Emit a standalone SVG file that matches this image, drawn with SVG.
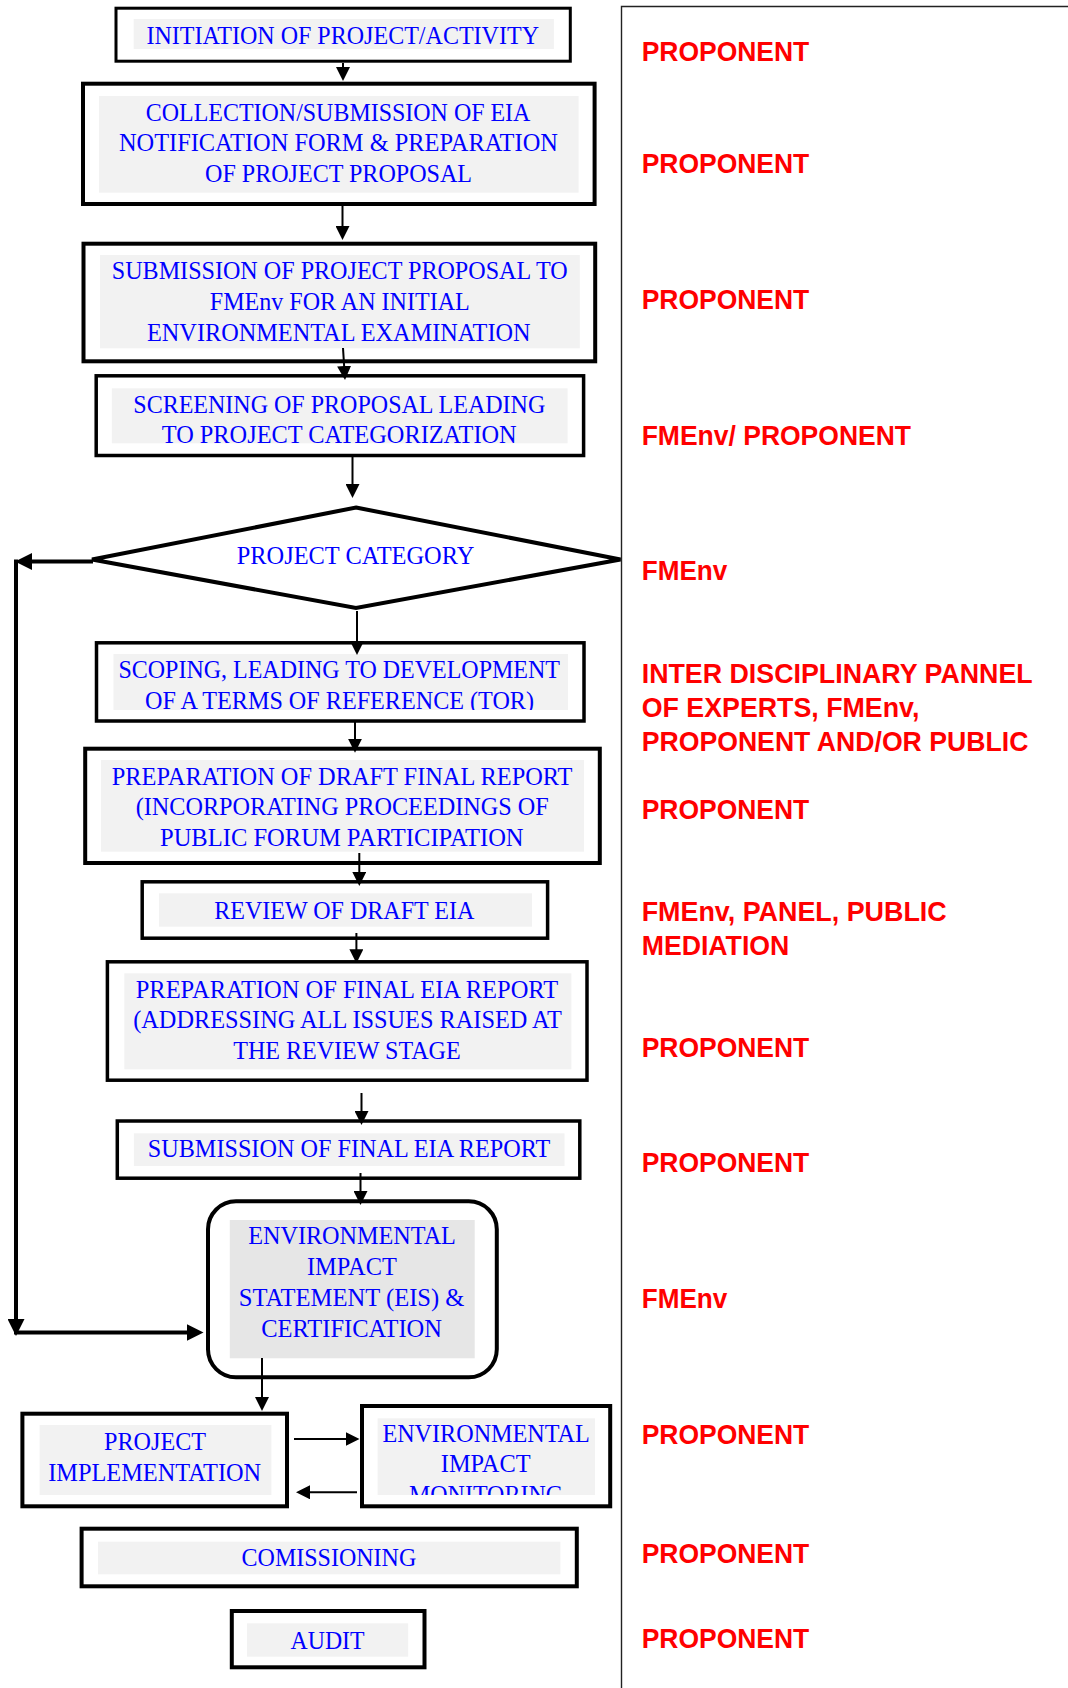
<svg xmlns="http://www.w3.org/2000/svg" width="1068" height="1688" viewBox="0 0 1068 1688">
<style>
.box{fill:#ffffff;stroke:#000000;stroke-width:4}
.bg{fill:#f2f2f2;stroke:none}
.bg2{fill:#e6e6e6;stroke:none}
.t{font-family:"Liberation Serif","Times New Roman",serif;font-size:26px;fill:#0000ff}
.r{font-family:"Liberation Sans",Arial,sans-serif;font-weight:bold;font-size:28px;fill:#ff0000}
.c{fill:none;stroke:#000000;stroke-width:2;marker-end:url(#ah)}
.cb{fill:none;stroke:#000000;stroke-width:4;marker-end:url(#ahb)}
.frame{fill:none;stroke:#222222;stroke-width:1.4}
</style>
<defs>
<marker id="ah" markerUnits="userSpaceOnUse" markerWidth="14" markerHeight="14" refX="10" refY="7" orient="auto">
<path d="M0,0 L14,7 L0,14 z" fill="#000000"/>
</marker>
<marker id="ahb" markerUnits="userSpaceOnUse" markerWidth="17" markerHeight="17" refX="9" refY="8.5" orient="auto">
<path d="M0,0 L17,8.5 L0,17 z" fill="#000000"/>
</marker>
<clipPath id="clip5"><rect x="113.5" y="654" width="454.5" height="56"/></clipPath>
<clipPath id="clip12"><rect x="377.6" y="1418.3" width="217.4" height="76.7"/></clipPath>
</defs>
<rect x="0" y="0" width="1068" height="1688" fill="#ffffff"/>

<g id="frame">
<path class="frame" d="M621.5,1688 L621.5,6.5 L1068,6.5"/>
</g>

<g id="n1">
<rect class="box" style="stroke-width:3" x="116" y="8.2" width="454.3" height="53"/>
<rect class="bg" x="133.7" y="19" width="420.2" height="30"/>
<text class="t" x="146.5" y="43.5" textLength="392.5" lengthAdjust="spacingAndGlyphs">INITIATION OF PROJECT/ACTIVITY</text>
</g>

<g id="n2">
<rect class="box" x="83" y="83.7" width="511.6" height="120.3"/>
<rect class="bg" x="99" y="96" width="479.6" height="96.7"/>
<text class="t" x="145.8" y="120.5" textLength="384.6" lengthAdjust="spacingAndGlyphs">COLLECTION/SUBMISSION OF EIA</text>
<text class="t" x="118.9" y="150.5" textLength="439" lengthAdjust="spacingAndGlyphs">NOTIFICATION FORM &amp; PREPARATION</text>
<text class="t" x="205" y="181.8" textLength="267" lengthAdjust="spacingAndGlyphs">OF PROJECT PROPOSAL</text>
</g>

<g id="n3">
<rect class="box" x="83.5" y="243.7" width="511.7" height="117.6"/>
<rect class="bg" x="100" y="255" width="479.8" height="93.3"/>
<text class="t" x="111.8" y="279.3" textLength="455.8" lengthAdjust="spacingAndGlyphs">SUBMISSION OF PROJECT PROPOSAL TO</text>
<text class="t" x="209.8" y="310.2" textLength="260" lengthAdjust="spacingAndGlyphs">FMEnv FOR AN INITIAL</text>
<text class="t" x="147" y="341" textLength="383.6" lengthAdjust="spacingAndGlyphs">ENVIRONMENTAL EXAMINATION</text>
</g>

<g id="n4">
<rect class="box" style="stroke-width:3.5" x="96.2" y="375.8" width="487.4" height="79.7"/>
<rect class="bg" x="111.8" y="388.3" width="455.8" height="55"/>
<text class="t" x="133.3" y="412.7" textLength="412" lengthAdjust="spacingAndGlyphs">SCREENING OF PROPOSAL LEADING</text>
<text class="t" x="161.7" y="442.5" textLength="355" lengthAdjust="spacingAndGlyphs">TO PROJECT CATEGORIZATION</text>
</g>

<g id="n5">
<polygon class="box" points="356,507.5 620.5,559.5 356,608 92,559.5"/>
<text class="t" x="236.7" y="564" textLength="237.6" lengthAdjust="spacingAndGlyphs">PROJECT CATEGORY</text>
</g>

<g id="n6">
<rect class="box" style="stroke-width:3.5" x="96.5" y="642.8" width="487.5" height="78.2"/>
<rect class="bg" x="113.5" y="654" width="454.5" height="56"/>
<text class="t" x="118.4" y="678" textLength="441.6" lengthAdjust="spacingAndGlyphs">SCOPING, LEADING TO DEVELOPMENT</text>
<text class="t" clip-path="url(#clip5)" x="145" y="709" textLength="389" lengthAdjust="spacingAndGlyphs">OF A TERMS OF REFERENCE (TOR)</text>
</g>

<g id="n7">
<rect class="box" x="85.2" y="748.7" width="514.6" height="114.3"/>
<rect class="bg" x="101" y="760" width="483" height="91.7"/>
<text class="t" x="111.8" y="785" textLength="460.7" lengthAdjust="spacingAndGlyphs">PREPARATION OF DRAFT FINAL REPORT</text>
<text class="t" x="135.7" y="815.2" textLength="413" lengthAdjust="spacingAndGlyphs">(INCORPORATING PROCEEDINGS OF</text>
<text class="t" x="160" y="845.8" textLength="363.6" lengthAdjust="spacingAndGlyphs">PUBLIC FORUM PARTICIPATION</text>
</g>

<g id="n8">
<rect class="box" style="stroke-width:3.5" x="142.2" y="881.8" width="405.4" height="56.4"/>
<rect class="bg" x="159" y="893.3" width="373" height="33.4"/>
<text class="t" x="214.3" y="918.5" textLength="260" lengthAdjust="spacingAndGlyphs">REVIEW OF DRAFT EIA</text>
</g>

<g id="n9">
<rect class="box" style="stroke-width:3.5" x="107.4" y="961.8" width="479.6" height="118.4"/>
<rect class="bg" x="124.3" y="973.3" width="447.1" height="96"/>
<text class="t" x="135.7" y="997.5" textLength="422.5" lengthAdjust="spacingAndGlyphs">PREPARATION OF FINAL EIA REPORT</text>
<text class="t" x="133.2" y="1027.5" textLength="428.6" lengthAdjust="spacingAndGlyphs">(ADDRESSING ALL ISSUES RAISED AT</text>
<text class="t" x="233.2" y="1059.3" textLength="227.5" lengthAdjust="spacingAndGlyphs">THE REVIEW STAGE</text>
</g>

<g id="n10">
<rect class="box" style="stroke-width:3.5" x="117.3" y="1121" width="462.5" height="57.2"/>
<rect class="bg" x="133.9" y="1133.3" width="430.6" height="32.7"/>
<text class="t" x="147.8" y="1157.2" textLength="402.4" lengthAdjust="spacingAndGlyphs">SUBMISSION OF FINAL EIA REPORT</text>
</g>

<g id="n11">
<rect class="box" x="208" y="1201.3" width="288.8" height="176" rx="28" ry="28"/>
<rect class="bg2" x="229.8" y="1220" width="244.9" height="138.3"/>
<text class="t" x="248.2" y="1243.7" textLength="207.7" lengthAdjust="spacingAndGlyphs">ENVIRONMENTAL</text>
<text class="t" x="307" y="1274.8" textLength="89.8" lengthAdjust="spacingAndGlyphs">IMPACT</text>
<text class="t" x="238.8" y="1305.7" textLength="225.7" lengthAdjust="spacingAndGlyphs">STATEMENT (EIS) &amp;</text>
<text class="t" x="261.2" y="1337" textLength="180.8" lengthAdjust="spacingAndGlyphs">CERTIFICATION</text>
</g>

<g id="n12">
<rect class="box" x="22.4" y="1413.7" width="264.6" height="92.6"/>
<rect class="bg" x="39.6" y="1425" width="231.8" height="70"/>
<text class="t" x="104" y="1450.3" textLength="102" lengthAdjust="spacingAndGlyphs">PROJECT</text>
<text class="t" x="48.2" y="1481" textLength="213" lengthAdjust="spacingAndGlyphs">IMPLEMENTATION</text>
</g>

<g id="n13">
<rect class="box" x="362" y="1406" width="248.2" height="100.3"/>
<rect class="bg" x="377.6" y="1418.3" width="217.4" height="76.7"/>
<text class="t" x="382.4" y="1442" textLength="207.4" lengthAdjust="spacingAndGlyphs">ENVIRONMENTAL</text>
<text class="t" x="440.8" y="1472" textLength="89.8" lengthAdjust="spacingAndGlyphs">IMPACT</text>
<text class="t" clip-path="url(#clip12)" x="409" y="1502.5" textLength="154" lengthAdjust="spacingAndGlyphs">MONITORING</text>
</g>

<g id="n14">
<rect class="box" x="81.6" y="1528.7" width="495.2" height="57.6"/>
<rect class="bg" x="98" y="1541.7" width="462.4" height="32.6"/>
<text class="t" x="241.6" y="1566.2" textLength="174.7" lengthAdjust="spacingAndGlyphs">COMISSIONING</text>
</g>

<g id="n15">
<rect class="box" x="231.8" y="1611" width="192.7" height="56.3"/>
<rect class="bg" x="247" y="1623.3" width="161.2" height="33.4"/>
<text class="t" x="290.6" y="1648.5" textLength="73.9" lengthAdjust="spacingAndGlyphs">AUDIT</text>
</g>

<g id="connectors">
<path class="c" d="M343,63 L343,77"/>
<path class="c" d="M342.5,206 L342.5,236"/>
<path class="c" d="M343,348 L344.75,376"/>
<path class="c" d="M352.5,457 L352.5,494"/>
<path class="c" d="M357,611 L357,651"/>
<path class="c" d="M355,722 L355,748.7"/>
<path class="c" d="M359.3,853 L359.3,882"/>
<path class="c" d="M356.4,933 L356.4,959.3"/>
<path class="c" d="M361.5,1093 L361.5,1121"/>
<path class="c" d="M360.5,1173 L360.5,1201"/>
<path class="c" d="M262,1358 L262,1407"/>
<path class="c" d="M294,1439 L355.5,1439"/>
<path class="c" d="M357,1492.3 L300,1492.3"/>
<path class="cb" d="M93,561.5 L23,561.5"/>
<path class="cb" d="M16,559.5 L16,1328"/>
<path class="cb" d="M14,1332.5 L195.5,1332.5"/>
</g>

<g id="roles">
<text class="r" x="641.7" y="61" textLength="167.6" lengthAdjust="spacingAndGlyphs">PROPONENT</text>
<text class="r" x="641.7" y="173" textLength="167.6" lengthAdjust="spacingAndGlyphs">PROPONENT</text>
<text class="r" x="641.7" y="309" textLength="167.6" lengthAdjust="spacingAndGlyphs">PROPONENT</text>
<text class="r" x="641.7" y="445" textLength="269.3" lengthAdjust="spacingAndGlyphs">FMEnv/ PROPONENT</text>
<text class="r" x="641.7" y="580.3" textLength="85.6" lengthAdjust="spacingAndGlyphs">FMEnv</text>
<text class="r" x="641.7" y="682.7" textLength="391" lengthAdjust="spacingAndGlyphs">INTER DISCIPLINARY PANNEL</text>
<text class="r" x="641.7" y="716.5" textLength="277.7" lengthAdjust="spacingAndGlyphs">OF EXPERTS, FMEnv,</text>
<text class="r" x="641.7" y="750.5" textLength="386.7" lengthAdjust="spacingAndGlyphs">PROPONENT AND/OR PUBLIC</text>
<text class="r" x="641.7" y="818.7" textLength="167.6" lengthAdjust="spacingAndGlyphs">PROPONENT</text>
<text class="r" x="641.7" y="920.7" textLength="305" lengthAdjust="spacingAndGlyphs">FMEnv, PANEL, PUBLIC</text>
<text class="r" x="641.7" y="954.7" textLength="147.6" lengthAdjust="spacingAndGlyphs">MEDIATION</text>
<text class="r" x="641.7" y="1057" textLength="167.6" lengthAdjust="spacingAndGlyphs">PROPONENT</text>
<text class="r" x="641.7" y="1171.8" textLength="167.6" lengthAdjust="spacingAndGlyphs">PROPONENT</text>
<text class="r" x="641.7" y="1307.5" textLength="85.6" lengthAdjust="spacingAndGlyphs">FMEnv</text>
<text class="r" x="641.7" y="1444" textLength="167.6" lengthAdjust="spacingAndGlyphs">PROPONENT</text>
<text class="r" x="641.7" y="1563" textLength="167.6" lengthAdjust="spacingAndGlyphs">PROPONENT</text>
<text class="r" x="641.7" y="1647.7" textLength="167.6" lengthAdjust="spacingAndGlyphs">PROPONENT</text>
</g>
</svg>
